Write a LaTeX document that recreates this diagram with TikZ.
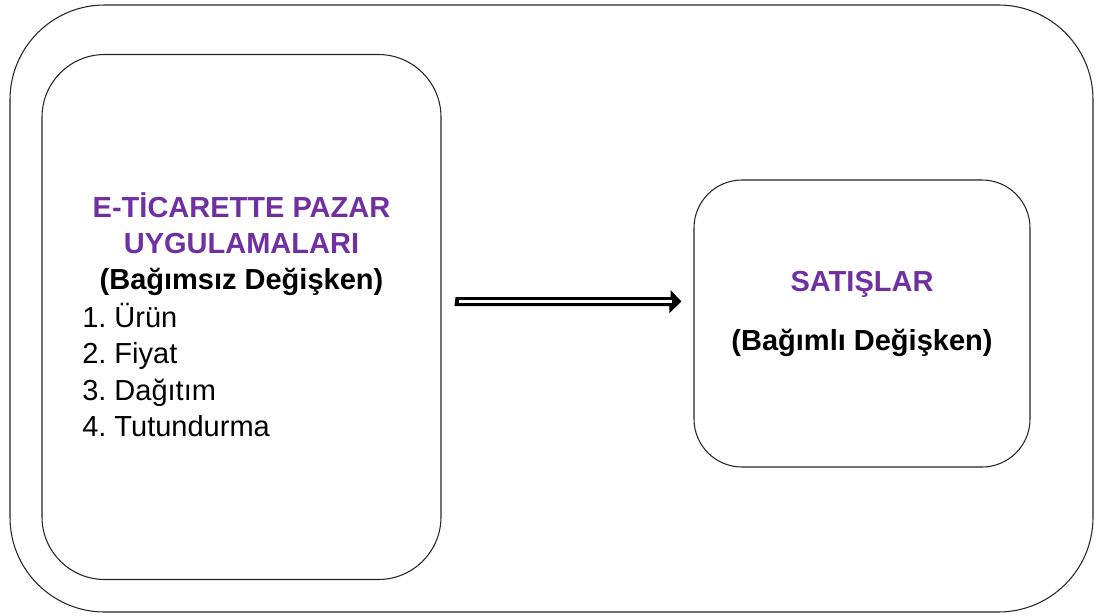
\documentclass[tikz,border=0pt]{standalone}
\usepackage{fontspec}
\setmainfont{Liberation Sans}
\usetikzlibrary{calc}
\definecolor{ppl}{HTML}{7030A0}
\frenchspacing
\begin{document}
\begin{tikzpicture}[x=0.75pt,y=-0.75pt,
  frame/.style={draw=black!85,line width=0.8pt,inner sep=0pt},
  ttl/.style={anchor=base,font=\fontsize{21.75}{26}\selectfont\bfseries,text=ppl,inner sep=0pt},
  sub/.style={anchor=base,font=\fontsize{21.75}{26}\selectfont\bfseries,inner sep=0pt},
  item/.style={anchor=base west,font=\fontsize{21.75}{26}\selectfont\frenchspacing,inner sep=0pt}]
\useasboundingbox (0,0) rectangle (1099,615);
\fill[white] (0,0) rectangle (1099,615);
% outer frame
\node[frame,rounded corners=71pt,minimum width=812.25pt,minimum height=455.25pt] (outer) at (551.5,308.5) {};
% left box
\node[frame,rounded corners=47pt,minimum width=299.25pt,minimum height=393.75pt] (L) at (241.5,317) {};
% right box
\node[frame,rounded corners=36pt,minimum width=252pt,minimum height=215.25pt] (R) at (862,323.5) {};
% left texts
\node[ttl] (t1) at (241.5,217) {E-TİCARETTE PAZAR};
\node[ttl] (t2) at (241.5,253.5) {UYGULAMALARI};
\node[sub] (t3) at (241.5,289) {(Bağımsız Değişken)};
\node[item] (t4) at (82,327) {1. Ürün};
\node[item] (t5) at (82,363.5) {2. Fiyat};
\node[item] (t6) at (82,400) {3. Dağıtım};
\node[item] (t7) at (82,436.5) {4. Tutundurma};
% right texts
\node[ttl] (s1) at (862,291) {SATIŞLAR};
\node[sub] (s2) at (862,350) {(Bağımlı Değişken)};
% arrow
\coordinate (as) at ($(L.east)+(14,-15.5)$);
\coordinate (ae) at ($(R.west)+(-12,-22)$);
\fill[black] (as) ++(0,-4.5) -- ++(215,0) -- ++(0,-7) -- (ae) -- ++(-12,11.5) -- ++(0,-7) -- ++(-215,0) -- cycle;
\fill[white] (as) ++(3,-1.5) rectangle ++(213,3);
\end{tikzpicture}
\end{document}
